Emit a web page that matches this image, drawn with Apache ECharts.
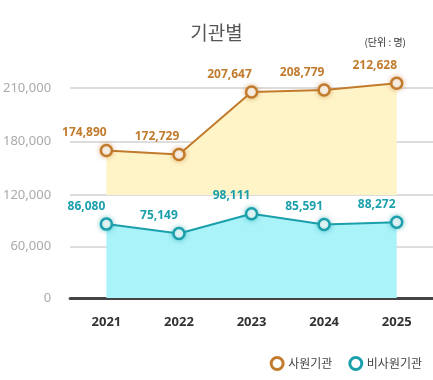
<!DOCTYPE html>
<html><head><meta charset="utf-8">
<script src="https://cdn.jsdelivr.net/npm/echarts@6/dist/echarts.min.js"></script>
<style>html,body{margin:0;padding:0;background:#fff}#c{width:433px;height:380px}</style>
</head><body><div id="c"></div>
<script>
const categories = ['2021', '2022', '2023', '2024', '2025'];
const memberOrgs = [174890, 172729, 207647, 208779, 212628];   // 사원기관
const nonMemberOrgs = [86080, 75149, 98111, 85591, 88272];      // 비사원기관
const seriesNames = ['사원기관', '비사원기관'];
const titleText = '기관별';
const unitText = '(단위 : 명)';

const C1 = '#c27b2c', C2 = '#1a9fab';
const numFont = 'Noto Sans';
const fmt = v => v.toLocaleString('en-US');

const chart = echarts.init(document.getElementById('c'));
chart.setOption({
  animation: false,
  title: [
    {text: titleText, left: 'center', top: 18, textStyle: {fontFamily: 'Noto Sans CJK KR', fontSize: 19, fontWeight: 'normal', color: '#555'}},
    {text: unitText, right: 22, top: 32, textStyle: {fontFamily: 'Noto Sans CJK KR', fontSize: 10, fontWeight: 'normal', color: '#333'}}
  ],
  legend: {
    right: 6, bottom: 4, itemWidth: 12, itemHeight: 12, itemGap: 16, icon: 'circle',
    textStyle: {fontFamily: 'Noto Sans CJK KR', fontSize: 12, color: '#444'},
    data: [
      {name: seriesNames[0], itemStyle: {color: '#fff', borderColor: C1, borderWidth: 3}},
      {name: seriesNames[1], itemStyle: {color: '#fff', borderColor: C2, borderWidth: 3}}
    ]
  },
  grid: [
    {left: 70, right: 0, top: 70, bottom: 185},
    {left: 70, right: 0, top: 195, bottom: 82}
  ],
  xAxis: [
    {gridIndex: 0, type: 'category', data: categories, show: false},
    {gridIndex: 1, type: 'category', data: categories,
      axisLine: {lineStyle: {color: '#444', width: 3}}, axisTick: {show: false},
      axisLabel: {margin: 18, fontFamily: numFont, fontSize: 13, fontWeight: 'bold', color: '#333'}}
  ],
  yAxis: [
    {gridIndex: 0, type: 'value', min: 150000, max: 220000, interval: 30000,
      axisLine: {show: false}, axisTick: {show: false},
      axisLabel: {showMinLabel: false, showMaxLabel: false, margin: 19, formatter: fmt, fontFamily: numFont, fontSize: 13, color: '#aaa'},
      splitLine: {showMaxLine: false, lineStyle: {color: '#ddd', width: 2}}},
    {gridIndex: 1, type: 'value', min: 0, max: 120000, interval: 60000,
      axisLine: {show: false}, axisTick: {show: false},
      axisLabel: {margin: 19, formatter: fmt, fontFamily: numFont, fontSize: 13, color: '#aaa'},
      splitLine: {lineStyle: {color: '#ddd', width: 2}}}
  ],
  series: [
    {name: seriesNames[0], type: 'line', xAxisIndex: 0, yAxisIndex: 0, data: memberOrgs,
      symbol: 'circle', symbolSize: 11,
      lineStyle: {color: C1, width: 2},
      itemStyle: {color: '#fff', borderColor: C1, borderWidth: 2.5, shadowBlur: 5, shadowColor: 'rgba(194,123,44,0.5)'},
      areaStyle: {color: '#fff4c8', opacity: 1, origin: 'start'},
      label: {show: true, position: 'top', offset: [-22, 0], formatter: p => fmt(p.value),
        fontFamily: numFont, fontSize: 12, fontWeight: 'bold', color: C1}},
    {name: seriesNames[1], type: 'line', xAxisIndex: 1, yAxisIndex: 1, data: nonMemberOrgs,
      symbol: 'circle', symbolSize: 11,
      lineStyle: {color: C2, width: 2},
      itemStyle: {color: '#fff', borderColor: C2, borderWidth: 2.5, shadowBlur: 5, shadowColor: 'rgba(26,159,171,0.5)'},
      areaStyle: {color: '#aaf3f9', opacity: 1, origin: 'start'},
      label: {show: true, position: 'top', offset: [-20, 0], formatter: p => fmt(p.value),
        fontFamily: numFont, fontSize: 12, fontWeight: 'bold', color: C2}}
  ]
});
</script></body></html>
